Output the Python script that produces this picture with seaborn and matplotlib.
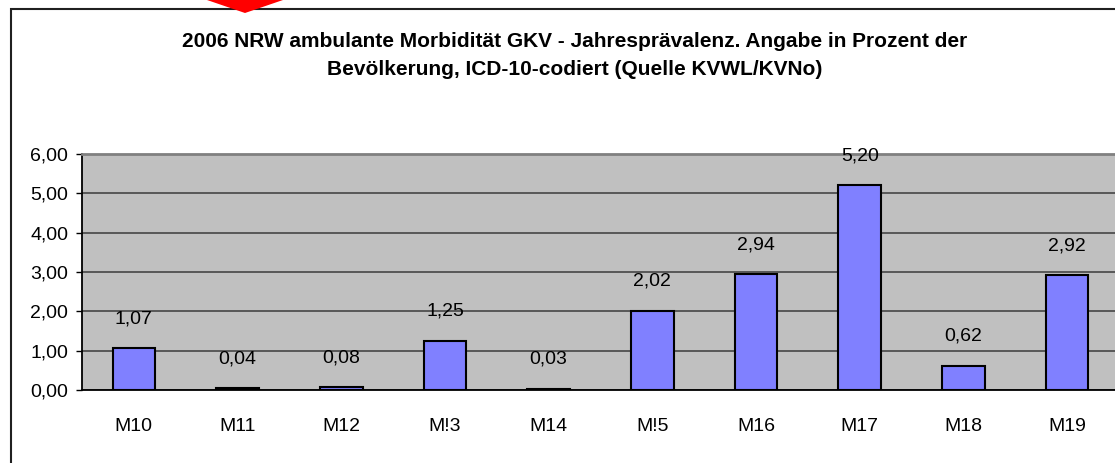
import numpy as np
import pandas as pd
import matplotlib
matplotlib.use("Agg")
import matplotlib.pyplot as plt
from matplotlib.patches import Rectangle, Polygon
from matplotlib.ticker import FixedLocator, FuncFormatter
import seaborn as sns

# Daten aus der Grafik
kategorien = ["M10", "M11", "M12", "M!3", "M14", "M!5", "M16", "M17", "M18", "M19"]
praevalenz = [1.07, 0.04, 0.08, 1.25, 0.03, 2.02, 2.94, 5.20, 0.62, 2.92]
y_ticks = [0, 1, 2, 3, 4, 5, 6]
titel_1 = "2006 NRW ambulante Morbidität GKV - Jahresprävalenz. Angabe in Prozent der"
titel_2 = "Bevölkerung, ICD-10-codiert (Quelle KVWL/KVNo)"

sns.set_style("white")
plt.rcParams['font.family'] = ['Liberation Sans', 'DejaVu Sans']
plt.rcParams.update({'text.color': 'black', 'xtick.color': 'black', 'ytick.color': 'black',
                     'axes.labelcolor': 'black'})

W, H = 1115, 463
fig = plt.figure(figsize=(W / 100, H / 100), dpi=100)
fig.patch.set_facecolor("white")

# Plotbereich (rechter Rand liegt knapp ausserhalb des Bildes)
ax = fig.add_axes([82 / W, 73 / H, 1037 / W, 236 / H])
ax.set_facecolor("#C0C0C0")

df = pd.DataFrame({"Kategorie": kategorien, "Wert": praevalenz})
sns.barplot(data=df, x="Kategorie", y="Wert", color="#8080FF", width=0.41,
            edgecolor="black", linewidth=1.5, saturation=1, ax=ax, zorder=3)

ax.set_xlim(-0.5, len(kategorien) - 0.5)
ax.set_ylim(0, 6)
ax.yaxis.set_major_locator(FixedLocator(y_ticks))
ax.yaxis.set_major_formatter(FuncFormatter(lambda v, p: f"{v:.2f}".replace(".", ",")))
ax.grid(axis="y", color="#505050", linewidth=1.3, zorder=0)
ax.set_axisbelow(True)

ax.set_xlabel("")
ax.set_ylabel("")

# Tickmarken an Kategoriegrenzen, Beschriftung mittig
ax.xaxis.set_minor_locator(FixedLocator(np.arange(-0.5, len(kategorien), 1.0)))
ax.tick_params(axis="x", which="major", length=0, pad=20, labelsize=14)
ax.tick_params(axis="x", which="minor", length=5, width=1, color="black", direction="out")
ax.tick_params(axis="y", which="major", length=4, width=1, color="black",
               direction="out", pad=6, labelsize=14, left=True)

for s in ["left", "bottom"]:
    ax.spines[s].set_color("black")
    ax.spines[s].set_linewidth(1.3)
ax.spines["top"].set_color("#808080")
ax.spines["top"].set_linewidth(2)
ax.spines["right"].set_visible(False)

ax.bar_label(ax.containers[0], labels=[f"{v:.2f}".replace(".", ",") for v in praevalenz],
             padding=15, fontsize=14, color="black")

# Diagrammrahmen
fig.add_artist(Rectangle((10.5 / W, -0.2), 1.2, (H - 8.5) / H + 0.2,
                         transform=fig.transFigure, fill=False,
                         edgecolor="#202020", linewidth=1.5))

# roter Pfeil oben
fig.add_artist(Polygon([(207 / W, 1.0), (283 / W, 1.0), (245 / W, 1 - 13 / H)],
                       closed=True, transform=fig.transFigure,
                       facecolor="#FF0000", edgecolor="none"))

fig.text(575 / W, 1 - 47 / H, titel_1, ha="center", va="baseline",
         fontsize=15, fontweight="bold", color="black")
fig.text(575 / W, 1 - 75 / H, titel_2, ha="center", va="baseline",
         fontsize=15, fontweight="bold", color="black")

fig.savefig("out.png", dpi=100)
